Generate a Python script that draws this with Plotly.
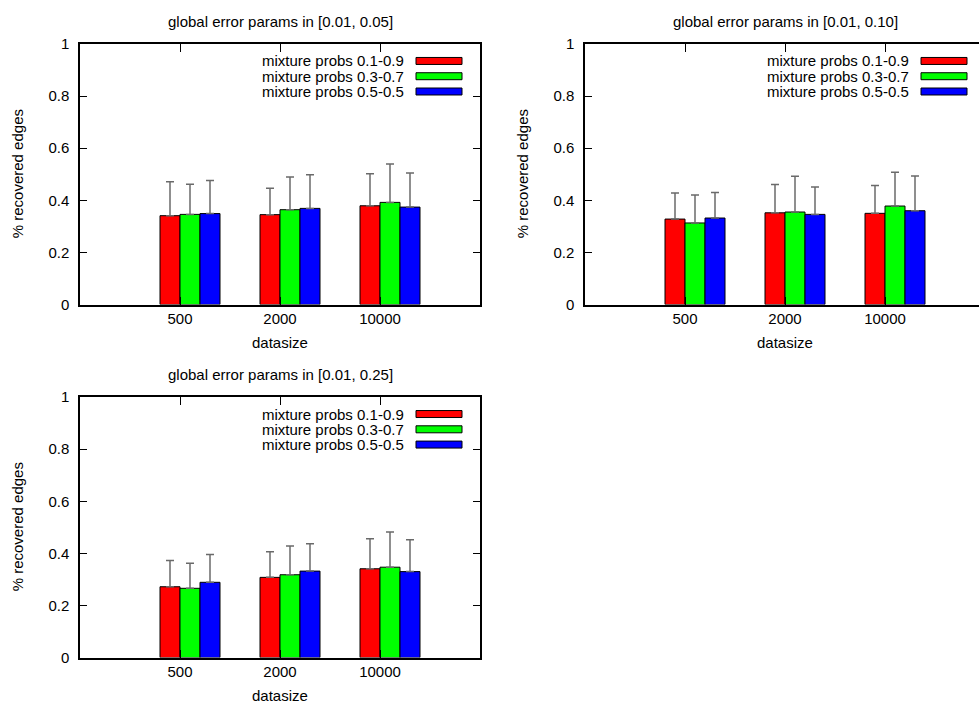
import plotly.graph_objects as go

# ---------------- data ----------------
categories = ["500", "2000", "10000"]
series_names = ["mixture probs 0.1-0.9", "mixture probs 0.3-0.7", "mixture probs 0.5-0.5"]
series_colors = ["#ff0000", "#00ff00", "#0000ff"]
panel_titles = ["global error params in [0.01, 0.05]",
                "global error params in [0.01, 0.10]",
                "global error params in [0.01, 0.25]"]

# panel 1: [0.01, 0.05]
p1_red = [0.341, 0.345, 0.379]
p1_red_err = [0.130, 0.101, 0.123]
p1_green = [0.346, 0.364, 0.392]
p1_green_err = [0.116, 0.125, 0.147]
p1_blue = [0.349, 0.369, 0.374]
p1_blue_err = [0.127, 0.129, 0.131]

# panel 2: [0.01, 0.10]
p2_red = [0.328, 0.352, 0.350]
p2_red_err = [0.100, 0.109, 0.107]
p2_green = [0.313, 0.355, 0.378]
p2_green_err = [0.107, 0.137, 0.130]
p2_blue = [0.332, 0.346, 0.360]
p2_blue_err = [0.098, 0.105, 0.133]

# panel 3: [0.01, 0.25]
p3_red = [0.272, 0.308, 0.341]
p3_red_err = [0.101, 0.098, 0.115]
p3_green = [0.266, 0.318, 0.347]
p3_green_err = [0.096, 0.110, 0.135]
p3_blue = [0.289, 0.332, 0.330]
p3_blue_err = [0.107, 0.105, 0.122]

y_ticks = [0, 0.2, 0.4, 0.6, 0.8, 1]
y_tick_labels = ["0", "0.2", "0.4", "0.6", "0.8", "1"]

panels = [
    ([p1_red, p1_green, p1_blue], [p1_red_err, p1_green_err, p1_blue_err]),
    ([p2_red, p2_green, p2_blue], [p2_red_err, p2_green_err, p2_blue_err]),
    ([p3_red, p3_green, p3_blue], [p3_red_err, p3_green_err, p3_blue_err]),
]

# ---------------- layout geometry (pixels) ----------------
W, H = 979, 708
FONT = "Liberation Sans, Arial, sans-serif"
FS = 15
# (left, right, top, bottom) of each plot box in px
boxes = [(80, 480, 43, 304), (585, 985, 43, 304), (80, 480, 396.7, 657.7)]

def px(x):
    return x / W

def py(y):
    # target screen y (px from top) -> paper fraction
    yf = (y - 7.96) / 0.9777
    return 1 - yf / H

fig = go.Figure()
bar_offsets = [-0.2, 0.0, 0.2]
bar_w = 0.2
xs = list(range(len(categories)))

annotations = []
shapes = []

for k, (vals, errs) in enumerate(panels):
    ax = "" if k == 0 else str(k + 1)
    for s in range(3):
        fig.add_trace(go.Bar(
            x=xs, y=vals[s], width=bar_w, offset=bar_offsets[s],
            marker=dict(color=series_colors[s], line=dict(color="black", width=1)),
            error_y=dict(type="data", array=errs[s], arrayminus=[0] * len(errs[s]),
                         symmetric=False, color="#6a6a6a", thickness=1.5, width=4),
            name=series_names[s], showlegend=False,
            xaxis="x" + ax, yaxis="y" + ax,
        ))
    L, R, T, B = boxes[k]
    right_vis = min(R, W)
    x_hi = -1 + 4 * (right_vis - L) / (R - L)
    xdom = [px(L), px(right_vis)]
    ydom = [py(B), py(T)]
    fig.layout["xaxis" + ax] = dict(
        domain=xdom, range=[-1, x_hi], tickvals=xs, ticktext=categories,
        ticks="inside", ticklen=8, tickwidth=1, tickcolor="black",
        showline=True, linecolor="black", linewidth=1.5, mirror="ticks",
        showgrid=False, zeroline=False, anchor="y" + ax, fixedrange=True,
        tickfont=dict(family=FONT, size=FS, color="black"),
    )
    fig.layout["yaxis" + ax] = dict(
        domain=ydom, range=[0, 1], tickvals=y_ticks, ticktext=y_tick_labels,
        ticks="inside", ticklen=7, tickwidth=1, tickcolor="black",
        showline=True, linecolor="black", linewidth=1.5,
        mirror=("ticks" if R <= W else False),
        showgrid=False, zeroline=False, anchor="x" + ax, fixedrange=True,
        ticklabelstandoff=6,
        tickfont=dict(family=FONT, size=FS, color="black"),
    )
    cx = (L + R) / 2
    # panel title
    annotations.append(dict(text=panel_titles[k], x=px(cx), y=py(T - 23), xref="paper", yref="paper",
                            showarrow=False, xanchor="center", yanchor="middle",
                            font=dict(family=FONT, size=FS, color="black")))
    # x title
    annotations.append(dict(text="datasize", x=px(cx), y=py(B + 38), xref="paper", yref="paper",
                            showarrow=False, xanchor="center", yanchor="middle",
                            font=dict(family=FONT, size=FS, color="black")))
    # y title
    annotations.append(dict(text="% recovered edges", x=px(L - 63), y=py((T + B) / 2),
                            xref="paper", yref="paper", textangle=-90,
                            showarrow=False, xanchor="center", yanchor="middle",
                            font=dict(family=FONT, size=FS, color="black")))
    # legend
    for s in range(3):
        yc = T + 17 + 15.3 * s
        annotations.append(dict(text=series_names[s], x=px(L + 326), y=py(yc), xref="paper", yref="paper",
                                showarrow=False, xanchor="right", yanchor="middle",
                                font=dict(family=FONT, size=FS, color="black")))
        shapes.append(dict(type="rect", xref="paper", yref="paper",
                           x0=px(L + 336), x1=px(L + 382), y0=py(yc + 3.5), y1=py(yc - 3.5),
                           fillcolor=series_colors[s], line=dict(color="black", width=1)))

fig.update_layout(
    width=W, height=H, margin=dict(l=0, r=0, t=0, b=0),
    paper_bgcolor="white", plot_bgcolor="white",
    barmode="overlay", showlegend=False,
    annotations=annotations, shapes=shapes,
    font=dict(family=FONT, size=FS, color="black"),
)

fig.write_html(
    "out.html",
    config={"displayModeBar": False, "responsive": False},
    post_script=(
        "document.documentElement.style.margin='0';"
        "document.documentElement.style.overflow='hidden';"
        "document.body.style.margin='0';document.body.style.padding='0';"
        "document.body.style.overflow='hidden';"
        "var gd=document.getElementById('{plot_id}');"
        "gd.style.position='fixed';gd.style.top='0px';gd.style.left='0px';"
    ),
)
